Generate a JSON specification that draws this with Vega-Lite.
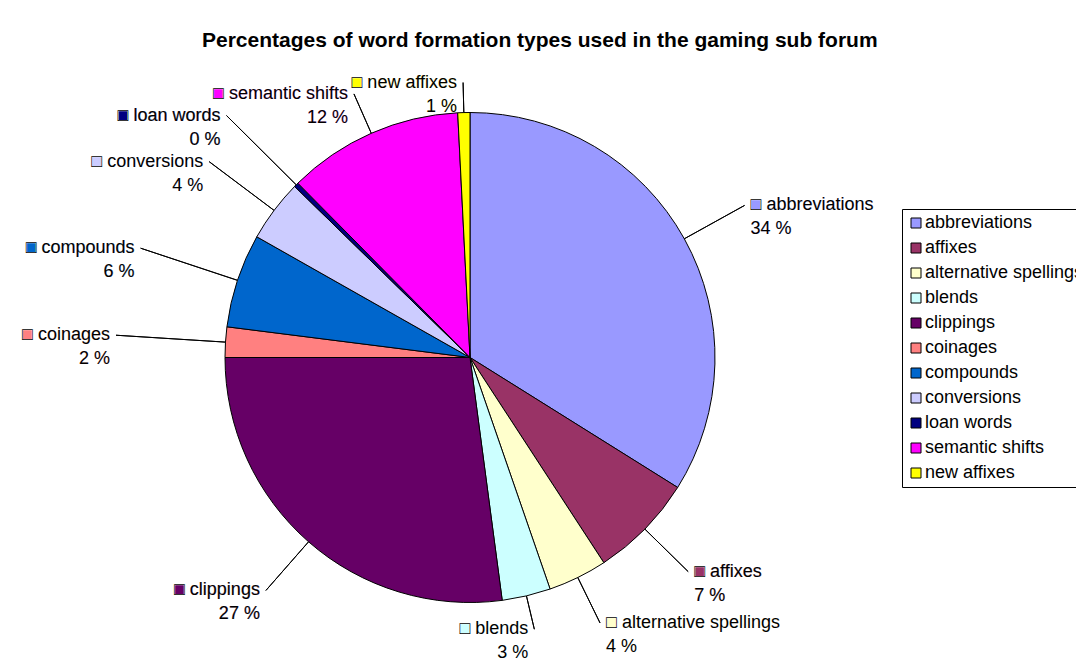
{
  "$schema": "https://vega.github.io/schema/vega-lite/v6.json",
  "width": 940,
  "height": 595,
  "autosize": "none",
  "padding": {"left": 0, "top": 60, "right": 136, "bottom": 16},
  "background": "white",
  "title": {
    "text": "Percentages of word formation types used in the gaming sub forum",
    "anchor": "start",
    "dx": 202,
    "offset": 9,
    "font": "Liberation Sans",
    "fontSize": 21,
    "fontWeight": "bold",
    "color": "black"
  },
  "data": {
    "values": [
      {"type": "abbreviations", "value": 33.9},
      {"type": "affixes", "value": 6.9},
      {"type": "alternative spellings", "value": 3.9},
      {"type": "blends", "value": 3.2},
      {"type": "clippings", "value": 27.1},
      {"type": "coinages", "value": 2.0},
      {"type": "compounds", "value": 6.2},
      {"type": "conversions", "value": 4.1},
      {"type": "loan words", "value": 0.3},
      {"type": "semantic shifts", "value": 11.6},
      {"type": "new affixes", "value": 0.8}
    ]
  },
  "transform": [
    {"window": [{"op": "sum", "field": "value", "as": "cum"}]},
    {"calculate": "datum.cum - datum.value", "as": "start"},
    {"calculate": "datum.cum - datum.value / 2", "as": "mid"},
    {"calculate": "pow(sin(datum.mid / 100 * 2 * PI), 2)", "as": "s2"},
    {"calculate": "datum.mid < 45 ? 0.18 + 0.4 * datum.s2 : datum.s2 + (datum.value < 0.5 ? 0.35 : 0)", "as": "rk"},
    {"calculate": "'■ ' + datum.type + '\\n' + format(datum.value, '.0f') + ' %'", "as": "labFill"},
    {"calculate": "'□ ' + datum.type + '\\n' + format(datum.value, '.0f') + ' %'", "as": "labLine"}
  ],
  "layer": [
    {
      "mark": {"type": "arc", "outerRadius": 245, "stroke": "black", "strokeWidth": 1},
      "encoding": {
        "theta": {"field": "start", "type": "quantitative", "stack": null, "scale": {"domain": [0, 100], "nice": false, "zero": false}},
        "theta2": {"field": "cum"},
        "color": {
          "field": "type",
          "type": "nominal",
          "scale": {
            "domain": ["abbreviations", "affixes", "alternative spellings", "blends", "clippings", "coinages", "compounds", "conversions", "loan words", "semantic shifts", "new affixes"],
            "range": ["#9999FF", "#993366", "#FFFFCC", "#CCFFFF", "#660066", "#FF8080", "#0066CC", "#CCCCFF", "#000080", "#FF00FF", "#FFFF00"]
          },
          "legend": {
            "orient": "none",
            "legendX": 902,
            "legendY": 149,
            "title": null,
            "symbolType": "square",
            "symbolSize": 100,
            "symbolStrokeColor": "black",
            "symbolStrokeWidth": 1,
            "labelFont": "Liberation Sans",
            "labelFontSize": 18,
            "labelColor": "black",
            "labelLimit": 400,
            "labelOffset": 0,
            "strokeColor": "black",
            "fillColor": "white",
            "padding": 5,
            "rowPadding": 7,
            "direction": "vertical"
          }
        }
      }
    },
    {
      "mark": {"type": "arc", "radius2": 245, "stroke": "black", "strokeWidth": 1, "fillOpacity": 0},
      "encoding": {
        "theta": {"field": "mid", "type": "quantitative", "stack": null, "scale": {"domain": [0, 100], "nice": false, "zero": false}},
        "theta2": {"field": "mid"},
        "radius": {"field": "rk", "type": "quantitative", "scale": {"type": "linear", "domain": [0, 1], "range": [275, 355], "zero": false, "nice": false}}
      }
    },
    {
      "transform": [{"filter": "datum.mid < 45"}],
      "encoding": {
        "theta": {"field": "mid", "type": "quantitative", "stack": null, "scale": {"domain": [0, 100], "nice": false, "zero": false}},
        "radius": {"field": "rk", "type": "quantitative", "scale": {"type": "linear", "domain": [0, 1], "range": [275, 355], "zero": false, "nice": false}}
      },
      "layer": [
        {
          "mark": {"type": "text", "align": "left", "baseline": "middle", "dx": 6, "font": "Liberation Sans", "fontSize": 18, "lineBreak": "\n", "lineHeight": 24},
          "encoding": {
            "text": {"field": "labFill"},
            "color": {"field": "type", "type": "nominal"}
          }
        },
        {
          "mark": {"type": "text", "align": "left", "baseline": "middle", "dx": 6, "font": "Liberation Sans", "fontSize": 18, "lineBreak": "\n", "lineHeight": 24, "color": "white"},
          "encoding": {"text": {"field": "labLine"}}
        },
        {
          "mark": {"type": "text", "align": "left", "baseline": "middle", "dx": 6, "font": "Liberation Sans", "fontSize": 18, "lineBreak": "\n", "lineHeight": 24, "color": "black"},
          "encoding": {"text": {"field": "labLine"}}
        }
      ]
    },
    {
      "transform": [{"filter": "datum.mid >= 45"}],
      "encoding": {
        "theta": {"field": "mid", "type": "quantitative", "stack": null, "scale": {"domain": [0, 100], "nice": false, "zero": false}},
        "radius": {"field": "rk", "type": "quantitative", "scale": {"type": "linear", "domain": [0, 1], "range": [275, 355], "zero": false, "nice": false}}
      },
      "layer": [
        {
          "mark": {"type": "text", "align": "right", "baseline": "middle", "dx": -6, "font": "Liberation Sans", "fontSize": 18, "lineBreak": "\n", "lineHeight": 24},
          "encoding": {
            "text": {"field": "labFill"},
            "color": {"field": "type", "type": "nominal"}
          }
        },
        {
          "mark": {"type": "text", "align": "right", "baseline": "middle", "dx": -6, "font": "Liberation Sans", "fontSize": 18, "lineBreak": "\n", "lineHeight": 24, "color": "white"},
          "encoding": {"text": {"field": "labLine"}}
        },
        {
          "mark": {"type": "text", "align": "right", "baseline": "middle", "dx": -6, "font": "Liberation Sans", "fontSize": 18, "lineBreak": "\n", "lineHeight": 24, "color": "black"},
          "encoding": {"text": {"field": "labLine"}}
        }
      ]
    }
  ],
  "config": {
    "view": {"stroke": null},
    "legend": {"strokeWidth": 1}
  }
}
